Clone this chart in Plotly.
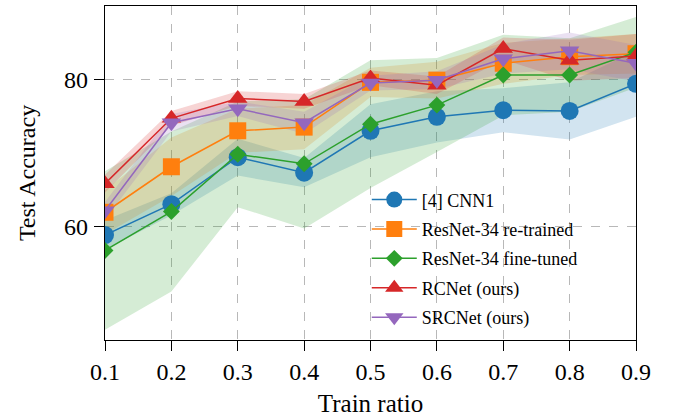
import plotly.graph_objects as go

train_ratio = [0.1, 0.2, 0.3, 0.4, 0.5, 0.6, 0.7, 0.8, 0.9]

names = ["[4] CNN1", "ResNet-34 re-trained", "ResNet-34 fine-tuned", "RCNet (ours)", "SRCNet (ours)"]

cnn1_mean = [58.8, 63.0, 69.4, 67.3, 73.0, 74.9, 75.8, 75.7, 79.4]
cnn1_std = [2.0, 1.5, 2.5, 2.0, 3.6, 3.5, 3.0, 3.9, 4.5]

retrained_mean = [61.9, 68.1, 73.0, 73.5, 79.6, 79.9, 82.2, 83.1, 83.5]
retrained_std = [3.0, 4.0, 3.0, 3.0, 2.0, 2.5, 2.8, 2.5, 2.7]

finetuned_mean = [56.7, 62.0, 69.8, 68.5, 73.9, 76.5, 80.6, 80.6, 83.7]
finetuned_std = [10.8, 10.9, 7.2, 8.8, 8.7, 6.4, 5.5, 5.0, 4.8]

rcnet_mean = [65.8, 74.7, 77.4, 77.0, 80.2, 79.2, 84.2, 82.6, 83.2]
rcnet_std = [1.2, 1.0, 1.0, 1.0, 1.0, 1.2, 1.5, 2.8, 3.0]

srcnet_mean = [62.1, 74.1, 76.0, 74.1, 79.5, 79.9, 82.8, 83.9, 82.2]
srcnet_std = [1.2, 1.2, 1.0, 1.5, 1.0, 1.2, 2.0, 2.5, 2.5]

y_ticks = [60, 80]
x_ticks = train_ratio

means = [cnn1_mean, retrained_mean, finetuned_mean, rcnet_mean, srcnet_mean]
stds = [cnn1_std, retrained_std, finetuned_std, rcnet_std, srcnet_std]
colors = ["#1f77b4", "#ff7f0e", "#2ca02c", "#d62728", "#9467bd"]
fills = ["rgba(31,119,180,0.2)", "rgba(255,127,14,0.2)", "rgba(44,160,44,0.2)",
         "rgba(214,39,40,0.2)", "rgba(148,103,189,0.2)"]
symbols = ["circle", "square", "diamond", "triangle-up", "triangle-down"]
sizes = [18, 17, 13, 17, 17]

fig = go.Figure()

for m, s, f in zip(means, stds, fills):
    upper = [a + b for a, b in zip(m, s)]
    lower = [a - b for a, b in zip(m, s)]
    fig.add_trace(go.Scatter(x=train_ratio + train_ratio[::-1], y=upper + lower[::-1],
                             fill="toself", fillcolor=f, line=dict(width=0),
                             mode="lines", hoverinfo="skip", showlegend=False))

for i, (name, m, c, sym, sz) in enumerate(zip(names, means, colors, symbols, sizes)):
    fig.add_trace(go.Scatter(x=train_ratio, y=m, name=name, mode="lines+markers",
                             legendgroup=f"g{i}",
                             line=dict(color=c, width=1.5),
                             marker=dict(symbol=sym, size=sz, color=c, line=dict(width=0))))

font_family = "Liberation Serif, Times New Roman, serif"
fig.update_layout(
    width=677, height=418,
    margin=dict(l=105, r=41, t=6, b=78),
    plot_bgcolor="white", paper_bgcolor="white",
    font=dict(family=font_family, size=24, color="black"),
    showlegend=True,
    legend=dict(x=0.493, y=0.475, xanchor="left", yanchor="top",
                bgcolor="rgba(0,0,0,0)", font=dict(size=18, family=font_family),
                traceorder="grouped", tracegroupgap=3, itemwidth=45),
)
grid = "rgba(160,160,160,0.75)"
fig.update_xaxes(range=[0.1, 0.9], tickvals=x_ticks, ticktext=[f"{v:.1f}" for v in x_ticks],
                 showgrid=True, gridcolor=grid, griddash="dash", gridwidth=1,
                 showline=True, linecolor="black", linewidth=1.2, mirror=True,
                 ticks="outside", ticklen=10, tickcolor="black", zeroline=False,
                 title=dict(text="Train ratio", font=dict(size=25), standoff=10))
fig.update_yaxes(range=[44.5, 90], tickvals=y_ticks,
                 showgrid=True, gridcolor=grid, griddash="dash", gridwidth=1,
                 showline=True, linecolor="black", linewidth=1.2, mirror=True,
                 ticks="outside", ticklen=10, tickcolor="black", zeroline=False,
                 ticklabelstandoff=1,
                 title=dict(text="Test Accuracy", font=dict(size=24), standoff=21))

fig.write_html("out.html", config={"displayModeBar": False},
               post_script="document.body.style.margin='0px';")
